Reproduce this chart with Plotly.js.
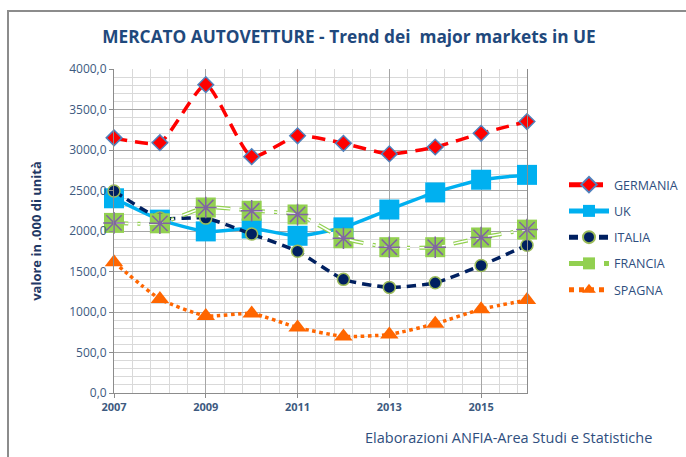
<!DOCTYPE html>
<html>
<head>
<meta charset="utf-8">
<script src="https://cdn.plot.ly/plotly-3.0.1.min.js"></script>
<style>
  html, body { margin: 0; padding: 0; background: #ffffff; }
  #frame { position: absolute; left: 7px; top: 10px; width: 690px; height: 460px;
           border-left: 2px solid #8c8c8c; border-top: 2px solid #8c8c8c; pointer-events: none; z-index: 5; }
  #chart { position: absolute; left: 0; top: 0; width: 686px; height: 457px; }
</style>
</head>
<body>
<div id="chart"></div>
<div id="frame"></div>
<script>
const years    = [2007, 2008, 2009, 2010, 2011, 2012, 2013, 2014, 2015, 2016];
const germania = [3150, 3090, 3807, 2918, 3175, 3083, 2952, 3037, 3206, 3351];
const uk       = [2404, 2140, 1995, 2031, 1941, 2045, 2265, 2476, 2633, 2693];
const italia   = [2494, 2162, 2159, 1962, 1749, 1403, 1304, 1360, 1575, 1825];
const francia  = [2100, 2095, 2290, 2250, 2204, 1910, 1800, 1800, 1920, 2017];
const spagna   = [1614, 1161, 952, 982, 808, 699, 723, 855, 1034, 1147];
const xTicks   = [2007, 2009, 2011, 2013, 2015];
const names    = ['GERMANIA', 'UK', 'ITALIA', 'FRANCIA', 'SPAGNA'];

const sm = 0.55;
const traces = [
  { x: years, y: germania, name: names[0], legendgroup: 'de', mode: 'lines+markers',
    line: { color: '#FF0000', width: 3.5, dash: '13px,8px', shape: 'spline', smoothing: sm },
    marker: { symbol: 'diamond', size: 12, color: '#FF0000', line: { color: '#4F81BD', width: 1.5 } } },
  { x: years, y: uk, name: names[1], legendgroup: 'uk', mode: 'lines+markers',
    line: { color: '#00B0F0', width: 3.5, shape: 'spline', smoothing: sm },
    marker: { symbol: 'square', size: 20, color: '#00B0F0' } },
  { x: years, y: italia, name: names[2], legendgroup: 'it', mode: 'lines+markers',
    line: { color: '#002060', width: 3.5, dash: '9px,6px', shape: 'spline', smoothing: sm },
    marker: { symbol: 'circle', size: 12, color: '#002060', line: { color: '#9BBB59', width: 1.5 } } },
  { x: years, y: francia, name: names[3], legendgroup: 'fr', mode: 'lines+markers',
    line: { color: '#92D050', width: 4, dash: '14px,9px,3px,9px', shape: 'spline', smoothing: sm },
    marker: { symbol: 'square', size: 20, color: '#92D050' } },
  { x: years, y: francia, name: names[3], legendgroup: 'fr', showlegend: false, mode: 'lines', hoverinfo: 'skip',
    line: { color: '#FFFFFF', width: 1.5, dash: '14px,9px,3px,9px', shape: 'spline', smoothing: sm } },
  { x: years, y: francia, name: names[3], legendgroup: 'fr', showlegend: false, mode: 'markers', hoverinfo: 'skip',
    marker: { symbol: 'asterisk-open', size: 18, color: '#8064A2', line: { color: '#8064A2', width: 1.5 } } },
  { x: years, y: spagna, name: names[4], legendgroup: 'es', mode: 'lines+markers',
    line: { color: '#FF6600', width: 3.5, dash: 'dot', shape: 'spline', smoothing: sm },
    marker: { symbol: 'triangle-up', size: 16, color: '#FF6600' } }
];
traces.forEach(t => { t.cliponaxis = false; });

const tickColor = '#3D5A80';
const layout = {
  width: 686, height: 457,
  margin: { l: 114, r: 159, t: 69, b: 64, pad: 0, autoexpand: false },
  paper_bgcolor: '#FFFFFF', plot_bgcolor: '#FFFFFF',
  separators: ',.',
  font: { family: 'Open Sans, DejaVu Sans, sans-serif', color: tickColor },
  title: { text: 'MERCATO AUTOVETTURE - Trend dei  major markets in UE',
           font: { family: 'Open Sans, sans-serif', size: 17.3, color: '#1F497D', weight: 'bold' },
           x: 349 / 686, xanchor: 'center', xref: 'container', y: 1 - 37 / 457, yanchor: 'middle', yref: 'container' },
  xaxis: {
    range: [2007, 2016], tickmode: 'array', tickvals: xTicks, ticktext: xTicks.map(String),
    showgrid: true, gridcolor: '#A6A6A6', gridwidth: 1,
    minor: { dtick: 0.4, tick0: 2007, showgrid: true, gridcolor: '#D9D9D9', gridwidth: 1 },
    showline: true, linecolor: '#8C8C8C', linewidth: 1,
    ticks: 'outside', ticklen: 4, tickcolor: '#8C8C8C',
    tickfont: { size: 11, color: tickColor, weight: 'bold' }, zeroline: false, fixedrange: true
  },
  yaxis: {
    range: [0, 4000], dtick: 500, tick0: 0, tickformat: '.1f',
    showgrid: true, gridcolor: '#A6A6A6', gridwidth: 1,
    minor: { dtick: 100, showgrid: true, gridcolor: '#D9D9D9', gridwidth: 1 },
    showline: true, linecolor: '#8C8C8C', linewidth: 1, mirror: true,
    ticks: 'outside', ticklen: 4, tickcolor: '#8C8C8C',
    tickfont: { size: 12, color: tickColor }, zeroline: false, fixedrange: true,
    title: { text: 'valore in .000 di unità', font: { size: 13, color: '#1F3864', weight: 'bold' }, standoff: 24 }
  },
  legend: {
    xref: 'container', yref: 'container',
    x: 564 / 686, xanchor: 'left', y: 1 - 170 / 457, yanchor: 'top',
    font: { size: 12.5, color: '#2E4E7E' }, bgcolor: 'rgba(0,0,0,0)',
    tracegroupgap: 7, itemwidth: 40, itemsizing: 'constant', traceorder: 'grouped'
  },
  annotations: [
    { text: 'Elaborazioni ANFIA-Area Studi e Statistiche', xref: 'paper', yref: 'paper',
      x: (508 - 114) / (686 - 114 - 159), y: (393 - 437) / (393 - 69),
      xanchor: 'center', yanchor: 'middle', showarrow: false,
      font: { size: 14.5, color: '#2E4E7E' } }
  ],
  showlegend: true
};

Plotly.newPlot('chart', traces, layout, { displayModeBar: false, staticPlot: true });
</script>
</body>
</html>
